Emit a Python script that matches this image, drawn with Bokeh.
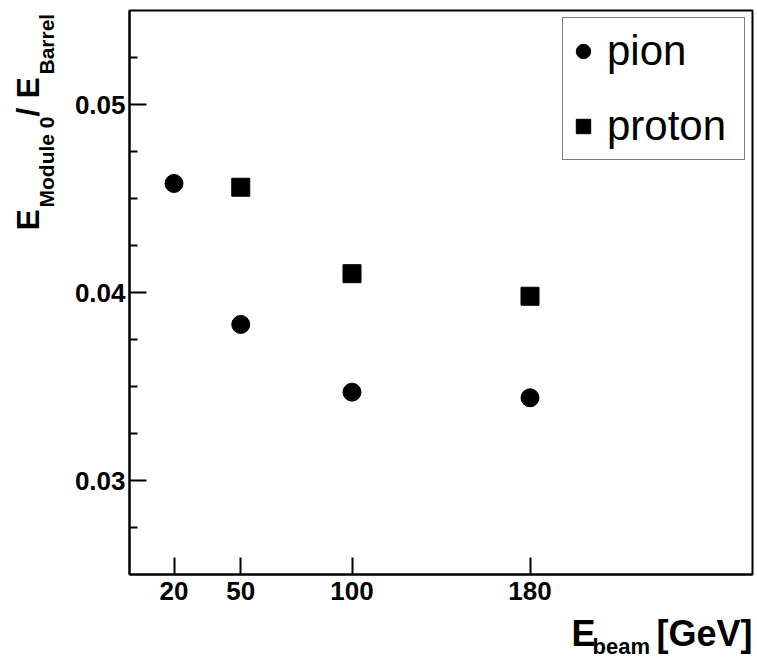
import math
from bokeh.plotting import figure
from bokeh.layouts import row, column
from bokeh.models import (FixedTicker, Range1d, Legend, LegendItem, Label,
                          ColumnDataSource)
from bokeh.embed import file_html
from bokeh.resources import INLINE

# ---- data ----
pion_energy = [20, 50, 100, 180]
pion_ratio = [0.0458, 0.0383, 0.0347, 0.0344]
proton_energy = [50, 100, 180]
proton_ratio = [0.0456, 0.0410, 0.0398]

x_ticks = [20, 50, 100, 180]
y_ticks = [0.03, 0.04, 0.05]
y_minor = [0.0275, 0.0325, 0.035, 0.0375, 0.0425, 0.045, 0.0475, 0.0525]
FONT = "Liberation Sans"

W, H = 757, 658
LEFT_W = 62      # strip holding the y title
BOTTOM_H = 46    # strip holding the x title
MAIN_W = W - LEFT_W
MAIN_H = H - BOTTOM_H
FRAME_L, FRAME_R, FRAME_T, FRAME_B = 129, 752, 10, 574   # canvas pixels

p = figure(width=MAIN_W, height=MAIN_H, output_backend="svg",
           toolbar_location=None,
           x_range=Range1d(0, 280), y_range=Range1d(0.025, 0.055),
           min_border_left=FRAME_L - LEFT_W, min_border_right=W - FRAME_R,
           min_border_top=FRAME_T, min_border_bottom=MAIN_H - FRAME_B)
p.xgrid.visible = False
p.ygrid.visible = False
p.outline_line_color = "black"
p.outline_line_width = 2
p.background_fill_color = "white"
p.border_fill_color = "white"

for ax in (p.xaxis[0], p.yaxis[0]):
    ax.axis_line_width = 2
    ax.axis_line_color = "black"
    ax.major_tick_in = 17
    ax.major_tick_out = 0
    ax.major_tick_line_width = 2
    ax.minor_tick_in = 8
    ax.minor_tick_out = 0
    ax.minor_tick_line_width = 2
    ax.major_label_text_font = FONT
    ax.major_label_text_font_style = "bold"
    ax.major_label_text_font_size = "26px"
    ax.major_label_text_color = "black"

p.xaxis[0].ticker = FixedTicker(ticks=x_ticks, minor_ticks=[])
p.yaxis[0].ticker = FixedTicker(ticks=y_ticks, minor_ticks=y_minor)
p.xaxis[0].major_label_standoff = 7
p.yaxis[0].major_label_standoff = 4
p.xaxis[0].major_label_overrides = {t: str(t) for t in x_ticks}
p.yaxis[0].major_label_overrides = {t: f"{t:.2f}" for t in y_ticks}

src_pi = ColumnDataSource(dict(x=pion_energy, y=pion_ratio))
src_pr = ColumnDataSource(dict(x=proton_energy, y=proton_ratio))
r1 = p.scatter("x", "y", source=src_pi, marker="circle", size=18,
               fill_color="black", line_color="black")
r2 = p.scatter("x", "y", source=src_pr, marker="square", size=18,
               fill_color="black", line_color="black")

legend = Legend(items=[LegendItem(label="pion", renderers=[r1]),
                       LegendItem(label="proton", renderers=[r2])],
                location="top_right", margin=7, padding=2, spacing=13,
                glyph_width=36, glyph_height=62, label_height=62,
                label_width=135, label_standoff=6,
                label_text_font=FONT, label_text_font_size="42px",
                label_text_color="black",
                border_line_color="black", border_line_width=1.5,
                background_fill_color="white", background_fill_alpha=1.0)
p.add_layout(legend)


def strip(width, height, x0, x1, y_bottom, y_top, bl, br, bt, bb):
    # data coordinates of a strip equal canvas pixel coordinates
    f = figure(width=width, height=height, output_backend="svg", title=None,
               toolbar_location=None, x_axis_location=None,
               y_axis_location=None,
               x_range=Range1d(x0, x1), y_range=Range1d(y_bottom, y_top),
               min_border=0, min_border_left=bl, min_border_right=br,
               min_border_top=bt, min_border_bottom=bb)
    f.xgrid.visible = False
    f.ygrid.visible = False
    f.outline_line_color = None
    f.background_fill_color = "white"
    f.border_fill_color = "white"
    return f


MID = 0.33  # distance (in em) from the alphabetic baseline to the middle


def lab(f, text, x, y, size, angle=0.0, align="left"):
    # (x, y) is the point on the alphabetic baseline; convert to middle
    if angle == 0.0:
        y = y - MID * size
    else:
        x = x - MID * size
    f.add_layout(Label(x=x, y=y, text=text, text_font=FONT,
                       text_font_style="bold", text_font_size=f"{size}px",
                       text_color="black", angle=angle, text_align=align,
                       text_baseline="middle"))


# y axis title: E_{Module 0}/E_{Barrel}  (frame aligned with main frame)
left = strip(LEFT_W, H, 0, LEFT_W, FRAME_B, FRAME_T,
             0, 0, FRAME_T, H - FRAME_B)
V = math.pi / 2
lab(left, "E", 38, 230, 32, V)
lab(left, "Module 0", 53, 207, 21, V)
lab(left, "/", 38, 116, 32, V)
lab(left, "E", 38, 98, 32, V)
lab(left, "Barrel", 53, 74, 21, V)

# x axis title: E_beam [GeV]  (frame aligned with main frame)
bottom = strip(MAIN_W, BOTTOM_H, FRAME_L, FRAME_R, H, MAIN_H,
               FRAME_L - LEFT_W, W - FRAME_R, 0, 0)
lab(bottom, "E", 571, 645, 36)
lab(bottom, "beam", 592, 653, 22)
lab(bottom, "[GeV]", 752, 645, 36, align="right")

layout = row(left, column(p, bottom, spacing=0), spacing=0)
open("out.html", "w").write(file_html(layout, INLINE))
